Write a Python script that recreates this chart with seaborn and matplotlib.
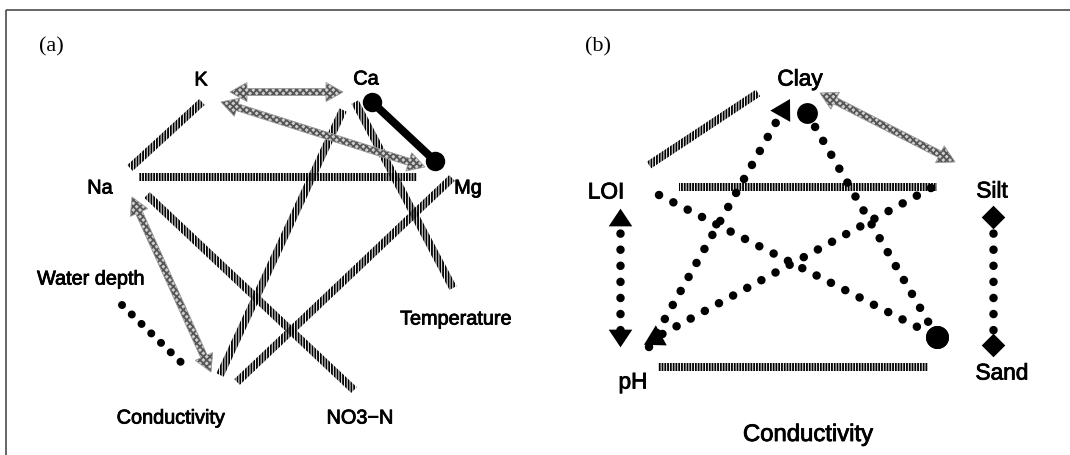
import numpy as np
import matplotlib
matplotlib.use("Agg")
import matplotlib.pyplot as plt
from matplotlib.patches import Polygon
import matplotlib.patheffects as pe
import seaborn as sns

# ---------------------------------------------------------------------------
# Panel (a): water chemistry variables
# ---------------------------------------------------------------------------
a_labels = ["K", "Ca", "Na", "Mg", "Water depth", "Temperature", "Conductivity", "NO3\u2212N"]
a_label_x = [201, 366, 100, 468, 91, 456, 171, 360]
a_label_y = [80, 79, 188, 188, 279, 319, 418, 418]

# links as (x start, y start, x end, y end)
a_striped = [
    (130, 168, 202, 102),   # Na - K
    (139, 177, 417, 177),   # Na - Mg
    (147, 195, 354, 390),   # Na - NO3-N
    (343, 110, 220, 375),   # Ca - Conductivity
    (355, 102, 453, 288),   # Ca - Temperature
    (452, 178, 237, 382),   # Mg - Conductivity
]
a_arrows = [
    (230, 92, 343, 92),     # K - Ca
    (221, 102, 425, 167),   # K - Mg
    (132, 197, 211, 372),   # Na - Conductivity
]
a_dotted = [(122, 305, 189, 370)]          # Water depth - Conductivity
a_solid = [(372, 102, 435, 161)]           # Ca - Mg

# ---------------------------------------------------------------------------
# Panel (b): soil variables
# ---------------------------------------------------------------------------
b_labels = ["Clay", "LOI", "Silt", "pH", "Sand", "Conductivity"]
b_label_x = [800, 606, 992, 633, 1002, 808]
b_label_y = [79, 192, 191, 382, 373, 435]
b_label_size = [16.3, 16.3, 16.3, 16.3, 16.3, 17.2]

b_striped = [
    (649, 165, 758, 93),    # LOI - Clay
    (679, 187, 937, 187),   # LOI - Silt
    (658, 367, 928, 367),   # pH - Sand
]
b_arrows = [(820, 93, 955, 162)]           # Clay - Silt
b_dotted = [
    (620, 217, 620, 338),   # LOI - pH
    (993, 217, 993, 345),   # Silt - Sand
    (649, 347, 783, 110),   # pH - Clay
    (931, 188, 655, 338),   # Silt - pH
    (659, 195, 937, 337),   # LOI - Conductivity
    (807, 113, 937, 337),   # Clay - Conductivity
]
# end markers of the dotted links: (start, end)
b_dotted_ends = [("up", "down"), ("D", "D"), (None, "tri"), (None, "tri"),
                 (None, "big"), ("o", "big")]

# ---------------------------------------------------------------------------
sns.set_theme(style="white")
plt.rcParams["font.family"] = ["Liberation Sans", "DejaVu Sans"]
plt.rcParams["hatch.linewidth"] = 1.3

W, H = 1070, 455
PT = 0.72  # points per pixel at 100 dpi
fig = plt.figure(figsize=(W / 100, H / 100), dpi=100)
ax = fig.add_axes([0, 0, 1, 1])
ax.set_xlim(0, W)
ax.set_ylim(H, 0)
ax.axis("off")

FLAT_UP = [(0, 0.75), (-1, -0.75), (1, -0.75), (0, 0.75)]
FLAT_DOWN = [(0, -0.75), (-1, 0.75), (1, 0.75), (0, -0.75)]
heavy = [pe.withStroke(linewidth=0.6, foreground="black")]


def frame(seg):
    x0, y0, x1, y1 = seg
    p0 = np.array([x0, y0], float)
    p1 = np.array([x1, y1], float)
    d = p1 - p0
    u = d / np.hypot(*d)
    n = np.array([-u[1], u[0]])
    return p0, p1, u, n


def striped(seg, width=8):
    p0, p1, u, n = frame(seg)
    h = n * width / 2
    ax.add_patch(Polygon([p0 + h, p1 + h, p1 - h, p0 - h], closed=True,
                         facecolor="none", edgecolor="black",
                         hatch="||||||", lw=0, zorder=2))


def double_arrow(seg, shaft=7, head_w=19, head_len=17):
    p0, p1, u, n = frame(seg)
    a = p0 + u * head_len
    b = p1 - u * head_len
    pts = [p0, a + n * head_w / 2, a + n * shaft / 2, b + n * shaft / 2,
           b + n * head_w / 2, p1, b - n * head_w / 2, b - n * shaft / 2,
           a - n * shaft / 2, a - n * head_w / 2]
    ax.add_patch(Polygon(pts, closed=True, facecolor="#cfcfcf",
                         edgecolor="#555555", hatch="xxxxx", lw=0, zorder=3))
    ax.add_patch(Polygon(pts, closed=True, facecolor="none",
                         edgecolor="#9a9a9a", lw=0.6, zorder=3))


def dotted(seg, dot=8.5, gap=16):
    x0, y0, x1, y1 = seg
    ax.plot([x0, x1], [y0, y1], color="black", linewidth=dot * PT,
            linestyle=(0, (0.01, gap / dot)), dash_capstyle="round", zorder=4)


def end_marker(x, y, kind, angle=0.0):
    if kind is None:
        return
    spec = {
        "up": (FLAT_UP, 17.0),
        "down": (FLAT_DOWN, 17.0),
        "D": ("D", 12.0),
        "o": ("o", 15.0),
        "big": ("o", 16.5),
        "tri": ((3, 0, angle), 19.0),
    }[kind]
    sns.scatterplot(x=[x], y=[y], marker=spec[0], s=spec[1] ** 2,
                    color="black", linewidth=0, legend=False, ax=ax, zorder=5)


# border of the figure
ax.plot([6, 6], [H, 9.5], color="#444444", linewidth=1.6 * PT, solid_capstyle="butt")
ax.plot([6, W], [9.5, 9.5], color="#444444", linewidth=1.6 * PT, solid_capstyle="butt")

# panel tags
ax.text(51, 47, "(a)", family="Liberation Serif", fontsize=16,
        ha="center", va="center", color="black")
ax.text(598, 47, "(b)", family="Liberation Serif", fontsize=16,
        ha="center", va="center", color="black")

# ---- panel (a) ----
for seg in a_striped:
    striped(seg)
for seg in a_arrows:
    double_arrow(seg)
for seg in a_dotted:
    dotted(seg, dot=8.0, gap=13.5)
for x0, y0, x1, y1 in a_solid:
    ax.plot([x0, x1], [y0, y1], color="black", linewidth=8.0 * PT,
            solid_capstyle="butt", zorder=4)
    sns.scatterplot(x=[x0, x1], y=[y0, y1], marker="o", s=14.0 ** 2,
                    color="black", linewidth=0, legend=False, ax=ax, zorder=5)
for lab, x, y in zip(a_labels, a_label_x, a_label_y):
    ax.text(x, y, lab, fontsize=14.3, ha="center", va="center", color="black",
            path_effects=heavy)

# ---- panel (b) ----
for seg in b_striped:
    striped(seg)
for seg in b_arrows:
    double_arrow(seg)
for seg, (m0, m1) in zip(b_dotted, b_dotted_ends):
    dotted(seg)
    x0, y0, x1, y1 = seg
    ang0 = np.degrees(np.arctan2(-(y0 - y1), x0 - x1)) - 90
    ang1 = np.degrees(np.arctan2(-(y1 - y0), x1 - x0)) - 90
    end_marker(x0, y0, m0, ang0)
    end_marker(x1, y1, m1, ang1)
for lab, x, y, fs in zip(b_labels, b_label_x, b_label_y, b_label_size):
    ax.text(x, y, lab, fontsize=fs, ha="center", va="center", color="black",
            path_effects=heavy)

fig.savefig("out.png", dpi=100)
